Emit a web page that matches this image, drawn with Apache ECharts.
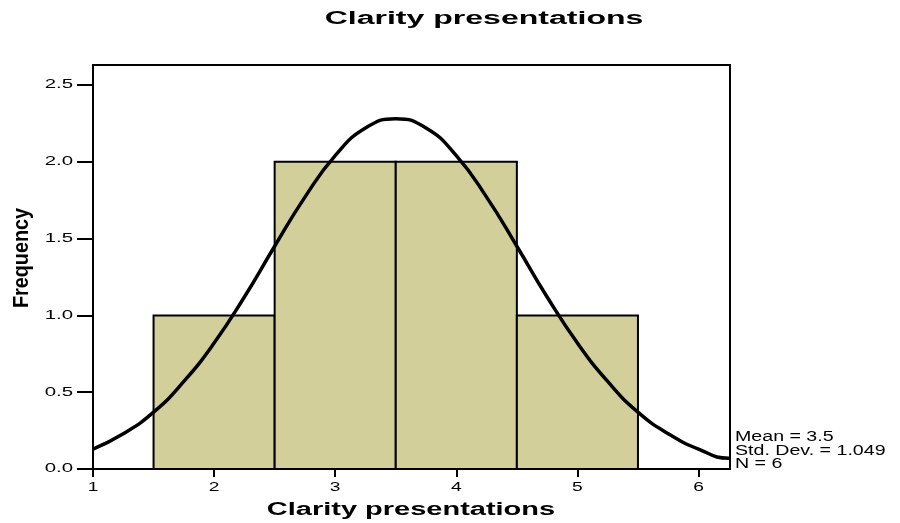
<!DOCTYPE html>
<html>
<head>
<meta charset="utf-8">
<script src="https://cdn.jsdelivr.net/npm/echarts@6/dist/echarts.min.js"></script>
<style>
  html, body { margin: 0; padding: 0; background: #fff; }
  #chart { width: 900px; height: 523px; }
</style>
</head>
<body>
<div id="chart"></div>
<script>
// histogram bins: [from, to, frequency]
var binStart = [1.5, 2.5, 3.5, 4.5];
var binEnd = [2.5, 3.5, 4.5, 5.5];
var binCount = [1, 2, 2, 1];

// normal curve
var curveX = [1, 1.25, 1.5, 1.75, 2, 2.25, 2.5, 2.75, 3, 3.25, 3.5, 3.75, 4, 4.25, 4.5, 4.75, 5, 5.25, 5.5, 5.75, 6, 6.25, 6.26];
var curveY = [0.13, 0.23, 0.37, 0.57, 0.82, 1.12, 1.45, 1.77, 2.04, 2.22, 2.28, 2.22, 2.04, 1.77, 1.45, 1.12, 0.82, 0.57, 0.37, 0.23, 0.13, 0.07, 0.07];

var xTicks = [1, 2, 3, 4, 5, 6];
var yTicks = [0, 0.5, 1, 1.5, 2, 2.5];
var titleText = 'Clarity presentations';
var xName = 'Clarity presentations';
var yName = 'Frequency';
var stats = ['Mean = 3.5', 'Std. Dev. = 1.049', 'N = 6'];

var chart = echarts.init(document.getElementById('chart'));

var bins = binCount.map(function (c, i) {
    return [binStart[i], binEnd[i], c];
});
var curve = curveX.map(function (x, i) {
    return [x, curveY[i]];
});

var font = '"Liberation Sans", Arial, sans-serif';

var option = {
    animation: false,
    grid: {
        left: 93, right: 170, top: 65, bottom: 54,
        show: true, borderColor: '#000', borderWidth: 2, backgroundColor: '#fff'
    },
    xAxis: {
        type: 'value',
        min: 1,
        max: 6.26,
        interval: 1,
        axisLine: { show: true, lineStyle: { color: '#000', width: 2 } },
        axisTick: { show: true, length: 8, lineStyle: { color: '#000', width: 2 }, customValues: xTicks },
        axisLabel: { show: false },
        splitLine: { show: false }
    },
    yAxis: {
        type: 'value',
        min: 0,
        max: 2.63,
        interval: 0.5,
        axisLine: { show: true, lineStyle: { color: '#000', width: 2 } },
        axisTick: { show: true, length: 16, lineStyle: { color: '#000', width: 2 }, customValues: yTicks },
        axisLabel: { show: false },
        splitLine: { show: false }
    },
    series: [
        {
            type: 'custom',
            data: bins,
            renderItem: function (params, api) {
                var p0 = api.coord([api.value(0), api.value(2)]);
                var p1 = api.coord([api.value(1), 0]);
                return {
                    type: 'rect',
                    shape: { x: p0[0], y: p0[1], width: p1[0] - p0[0], height: p1[1] - p0[1] },
                    style: { fill: '#d3cf9b', stroke: '#000', lineWidth: 2 }
                };
            },
            z: 2
        },
        {
            type: 'line',
            data: curve,
            smooth: true,
            showSymbol: false,
            lineStyle: { color: '#000', width: 3.5 },
            z: 3
        }
    ]
};

chart.setOption(option);

// the original text is stretched sideways, so labels are drawn as scaled text
function label(text, x, y, size, bold, sx, align) {
    return {
        type: 'text',
        x: x, y: y,
        scaleX: sx,
        style: {
            text: text,
            fontFamily: font, fontSize: size, fontWeight: bold ? 'bold' : 'normal',
            fill: '#000', align: align || 'center', verticalAlign: 'middle'
        }
    };
}

var graphics = [];
xTicks.forEach(function (v) {
    var px = chart.convertToPixel({ xAxisIndex: 0 }, v);
    graphics.push(label(String(v), px, 488, 12, false, 1.6));
});
yTicks.forEach(function (v) {
    var py = chart.convertToPixel({ yAxisIndex: 0 }, v);
    graphics.push(label(v.toFixed(1), 73, py, 12, false, 1.7, 'right'));
});
graphics.push(label(titleText, 484, 19, 18, true, 1.78));
graphics.push(label(xName, 411, 510, 18, true, 1.61));
stats.forEach(function (s, i) {
    graphics.push(label(s, 735, 437.5 + i * 13.5, 14, false, 1.4, 'left'));
});
var yLab = label(yName, 22, 258, 22, true, 0.9);
yLab.rotation = Math.PI / 2;
graphics.push(yLab);

chart.setOption({ graphic: graphics });
</script>
</body>
</html>
